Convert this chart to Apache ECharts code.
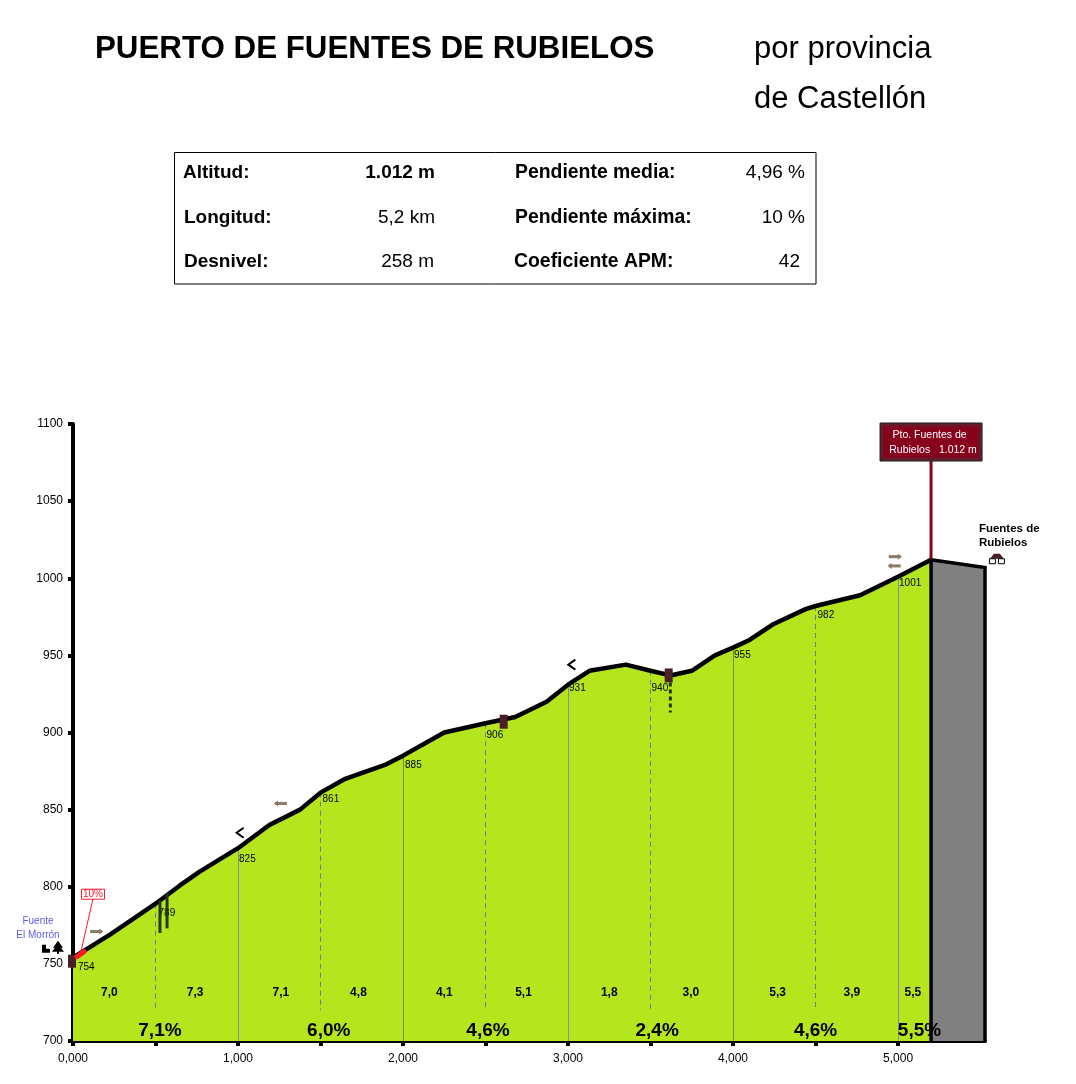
<!DOCTYPE html>
<html><head><meta charset="utf-8">
<style>html,body{margin:0;padding:0;background:#fff}#c{width:1076px;height:1084px}</style>
<script src="https://cdn.jsdelivr.net/npm/echarts@6/dist/echarts.min.js"></script>
</head><body><div id="c"></div>
<script>
var FONT='"Liberation Sans",Arial,sans-serif';
// ---- data ----
var profileKm=[0,0.224,0.376,0.5,0.65,0.77,1,1.19,1.376,1.5,1.65,1.89,2,2.25,2.5,2.68,2.87,3,3.13,3.35,3.5,3.62,3.75,3.89,4,4.1,4.24,4.44,4.5,4.77,5,5.2];
var profileAlt=[754,769,780,789,801,810,825,840,850,861,870,879,885,900,906,910,920,931,940,944,940,937,940,950,955,960,970,980,982,989,1001,1012];
var descentKm=[5.2,5.527];
var descentAlt=[1012,1007];
var markKm=[0,0.5,1,1.5,2,2.5,3,3.5,4,4.5,5];
var markAlt=[754,789,825,861,885,906,931,940,955,982,1001];
var stepGrades=['7,0','7,3','7,1','4,8','4,1','5,1','1,8','3,0','5,3','3,9','5,5'];
var stepKm=[0.22,0.74,1.26,1.73,2.25,2.73,3.25,3.745,4.27,4.72,5.09];
var bigGrades=['7,1%','6,0%','4,6%','2,4%','4,6%','5,5%'];
var bigKm=[0.527,1.55,2.515,3.54,4.5,5.13];
var xTicks=[0,1,2,3,4,5];
var xMinorTicks=[0,0.5,1,1.5,2,2.5,3,3.5,4,4.5,5];
var xTickLabels=['0,000','1,000','2,000','3,000','4,000','5,000'];
var yTickLabels=[700,750,800,850,900,950,1000,1050,1100];
var titleMain='PUERTO DE FUENTES DE RUBIELOS';
var titleSide=['por provincia','de Castellón'];
var infoLeft=[['Altitud:','1.012 m'],['Longitud:','5,2 km'],['Desnivel:','258 m']];
var infoRight=[['Pendiente media:','4,96 %'],['Pendiente máxima:','10 %'],['Coeficiente APM:','42']];
var summitLabel=['Pto. Fuentes de','Rubielos   1.012 m'];
var townLabel=['Fuentes de','Rubielos'];
var springLabel=['Fuente','El Morrón'];
var steepLabel='10%';

// ---- layout of the annotations ----
var markDx=[5,3,1,2,2,1,1,1,1,2,1];     // altitude label offset from its drop line
var markDy=[10,10,11,7,10,12,4,17,8,9,7];
function pairs(a,b){return a.map(function(v,i){return [v,b[i]];});}
var profile=pairs(profileKm,profileAlt);

function custom(z,data,fn){
  return {type:'custom',z:z,silent:true,clip:false,coordinateSystem:'cartesian2d',
    encode:{x:0,y:1},data:data,renderItem:fn};
}
function txt(x,y,s,size,opt){
  opt=opt||{};
  return {type:'text',style:{x:x,y:y,text:s,fill:opt.fill||'#000',
    font:(opt.weight||'normal')+' '+size+'px '+FONT,
    align:opt.align||'center',verticalAlign:'middle'}};
}
var zeroBase=700, dashEnd=720;
var series=[
  {type:'line',z:2,data:profile,symbol:'none',lineStyle:{width:0},silent:true,
   areaStyle:{color:'#b5e61d',opacity:1},origin:'start'},
  {type:'line',z:2,data:pairs(descentKm,descentAlt),symbol:'none',lineStyle:{width:0},silent:true,
   areaStyle:{color:'#808080',opacity:1},origin:'start'},
  // drop lines with their altitude labels
  custom(3,pairs(markKm,markAlt),function(p,api){
    var i=p.dataIndex,x=api.value(0),y=api.value(1);
    if(i===0){var a0=api.coord([x,y]);return {type:'group',children:[txt(a0[0]+markDx[i],a0[1]+markDy[i],''+y,10,{align:'left'})]};}
    var half=i%2===1;
    var top=api.coord([x,y]),bot=api.coord([x,half?dashEnd:zeroBase]);
    var px=Math.floor(top[0])+0.5;
    var c=[{type:'line',shape:{x1:px,y1:top[1],x2:px,y2:bot[1]},
      style:{stroke:half?'#77779a':(x%2===0?'#75884a':'#8a8ab0'),lineWidth:1,lineDash:half?[5,4]:null}}];
    c.push(txt(top[0]+markDx[i],top[1]+markDy[i],''+y,10,{align:'left'}));
    return {type:'group',children:c};
  }),
  // grade per 500 m
  custom(6,stepKm.map(function(v){return [v,731];}),function(p,api){
    var a=api.coord([api.value(0),api.value(1)]);
    return txt(a[0],a[1],stepGrades[p.dataIndex],12,{weight:'bold'});
  }),
  // grade per km
  custom(6,bigKm.map(function(v){return [v,706.5];}),function(p,api){
    var a=api.coord([api.value(0),api.value(1)]);
    return txt(a[0],a[1],bigGrades[p.dataIndex],19,{weight:'bold'});
  }),
  // descent stroke and profile stroke
  {type:'line',z:5,data:[[5.2,700],[5.2,1012],[5.527,1007],[5.527,700]],symbol:'none',silent:true,
   lineStyle:{width:3.5,color:'#000',join:'miter'}},
  {type:'line',z:5,data:profile,symbol:'none',silent:true,lineStyle:{width:4.5,color:'#000',join:'round'}},
  // summit stem and box
  custom(7,[[5.2,1012]],function(p,api){
    var a=api.coord([5.2,1012]),top=api.coord([5.2,1100]);
    var bx=a[0]-51,by=top[1]-1,bw=102,bh=38;
    var kids=[
      {type:'line',shape:{x1:a[0],y1:a[1]-1,x2:a[0],y2:by+bh},style:{stroke:'#87001f',lineWidth:3}},
      {type:'rect',shape:{x:bx,y:by,width:bw,height:bh},style:{fill:'#87001c'}}
    ];
    var edge=['#5a2a36','#62202e','#6c1628','#760e24','#800620'];
    edge.forEach(function(col,k){
      kids.push({type:'rect',shape:{x:bx+k+0.5,y:by+k+0.5,width:bw-2*k-1,height:bh-2*k-1},style:{fill:null,stroke:col,lineWidth:1}});
    });
    kids.push({type:'rect',shape:{x:bx,y:by,width:bw,height:bh},style:{fill:null,stroke:'#1c1c1c',lineWidth:1}});
    kids.push(txt(a[0]-1.5,by+12,summitLabel[0],10.5,{fill:'#fff'}));
    kids.push(txt(a[0]+2,by+27,summitLabel[1],10.5,{fill:'#fff'}));
    return {type:'group',children:kids};
  }),
  // start: steep section, spring, tree, hut
  custom(8,[[0,754]],function(p,api){
    var a=api.coord([0,754]);
    var X=a[0],Y=a[1];
    return {type:'group',children:[
      {type:'rect',shape:{x:X-5,y:Y-3,width:8,height:13},style:{fill:'#4a2026'}},
      {type:'line',shape:{x1:X+4,y1:Y-1,x2:X+11,y2:Y-6},style:{stroke:'#ff1a2a',lineWidth:5,lineCap:'round'}},
      {type:'line',shape:{x1:X+7,y1:Y-2,x2:X+20,y2:Y-59},style:{stroke:'#ff1a2a',lineWidth:1}},
      {type:'rect',shape:{x:X+8.5,y:Y-68.5,width:23,height:10},style:{fill:'#fff',stroke:'#ff1a2a',lineWidth:1}},
      txt(X+20,Y-63,steepLabel,10,{fill:'#ff1a2a'}),
      txt(X-35,Y-36,springLabel[0],10,{fill:'#5a5af0'}),
      txt(X-35,Y-22,springLabel[1],10,{fill:'#5a5af0'}),
      {type:'polygon',shape:{points:[[X-31,Y-13],[X-27,Y-13],[X-27,Y-9],[X-23,Y-9],[X-23,Y-5],[X-31,Y-5]]},style:{fill:'#000'}},
      {type:'polygon',shape:{points:[[X-15,Y-17],[X-10,Y-10],[X-12,Y-10],[X-9,Y-6],[X-14,Y-6],[X-14,Y-4],[X-16,Y-4],[X-16,Y-6],[X-21,Y-6],[X-18,Y-10],[X-20,Y-10]]},style:{fill:'#000'}}
    ]};
  }),
  // bridges, crossings, direction arrows
  custom(8,[[0.53,789]],function(p,api){
    function bar(km,a1,a2,dash){var t=api.coord([km,a1]),b=api.coord([km,a2]);
      return {type:'line',shape:{x1:t[0],y1:t[1],x2:b[0],y2:b[1]},style:{stroke:'#22380c',lineWidth:3,lineDash:dash||null}};}
    function sq(km,alt){var c=api.coord([km,alt]);
      return {type:'rect',shape:{x:c[0]-4,y:c[1]-7,width:8,height:14},style:{fill:'#4a2026'}};}
    function arrow(km,alt,dir){var c=api.coord([km,alt]),x=c[0],y=c[1],d=dir;
      return {type:'group',children:[
        {type:'line',shape:{x1:x-6*d,y1:y,x2:x+6*d,y2:y},style:{stroke:'#8c7b6b',lineWidth:3}},
        {type:'polygon',shape:{points:[[x+7*d,y],[x+3*d,y-3],[x+3*d,y+3]]},style:{fill:'#8c7b6b'}}]};}
    function chev(km,alt){var c=api.coord([km,alt]),x=c[0],y=c[1];
      return {type:'polyline',shape:{points:[[x+4,y-5],[x-3,y],[x+4,y+5]]},style:{stroke:'#000',lineWidth:2,fill:null}};}
    var h=api.coord([5.49,1012]);
    var hx=h[0]+18,hy=h[1]-1;
    return {type:'group',children:[
      bar(0.527,791,770),bar(0.57,796,773),bar(3.62,937,913,[4,3]),
      sq(2.61,907),sq(3.61,937),
      arrow(0.14,771,1),arrow(1.26,854,-1),arrow(4.98,1014,1),arrow(4.98,1008,-1),
      chev(1.01,835),chev(3.02,944),
      {type:'polygon',shape:{points:[[hx-7,hy],[hx-3,hy-5],[hx+3,hy-5],[hx+7,hy]]},style:{fill:'#4a2026'}},
      {type:'rect',shape:{x:hx-7.5,y:hy,width:6,height:5},style:{fill:'#fff',stroke:'#000',lineWidth:1}},
      {type:'rect',shape:{x:hx+1.5,y:hy,width:6,height:5},style:{fill:'#fff',stroke:'#000',lineWidth:1}},
      {type:'text',style:{x:h[0],y:h[1]-31,text:townLabel[0],fill:'#000',font:'bold 11.5px '+FONT,align:'left',verticalAlign:'middle'}},
      {type:'text',style:{x:h[0],y:h[1]-17,text:townLabel[1],fill:'#000',font:'bold 11.5px '+FONT,align:'left',verticalAlign:'middle'}}
    ]};
  })
];

var graphic=[
  {type:'text',left:95,top:34,style:{text:titleMain,font:'bold 31.3px '+FONT,fill:'#000'}},
  {type:'text',left:754,top:34,style:{text:titleSide[0],font:'31px '+FONT,fill:'#000'}},
  {type:'text',left:754,top:84,style:{text:titleSide[1],font:'31px '+FONT,fill:'#000'}},
  {type:'rect',shape:{x:174.5,y:152.5,width:641.5,height:131.5},style:{fill:'#fff',stroke:'#000',lineWidth:1}}
];
var rowY=[173,218,262];
var labelXL=[183,184,184], labelXR=[515,515,514], valEndL=[435,435,434], valEndR=[805,805,800];
function infoText(x,y,s,bold,right,size){
  return {type:'text',x:x,y:y,style:{text:s,font:(bold?'bold ':'')+size+'px '+FONT,fill:'#000',
    align:right?'right':'left',verticalAlign:'middle'}};
}
infoLeft.forEach(function(r,i){
  graphic.push(infoText(labelXL[i],rowY[i],r[0],true,false,19));
  graphic.push(infoText(valEndL[i],rowY[i],r[1],i===0,true,19));
});
infoRight.forEach(function(r,i){
  graphic.push(infoText(labelXR[i],rowY[i],r[0],true,false,19.4));
  graphic.push(infoText(valEndR[i],rowY[i],r[1],false,true,19));
});

var chart=echarts.init(document.getElementById('c'),null,{renderer:'canvas'});
chart.setOption({
  animation:false,
  backgroundColor:'#fff',
  graphic:graphic,
  grid:{left:73,top:424,width:912,height:617,containLabel:false},
  xAxis:{type:'value',min:0,max:5.527,
    axisLine:{show:true,onZero:false,lineStyle:{color:'#000',width:4}},
    axisTick:{show:true,customValues:xMinorTicks,length:5,lineStyle:{color:'#000',width:4}},
    axisLabel:{customValues:xTicks,margin:12,color:'#000',fontSize:12,fontFamily:FONT,
      formatter:function(v){return xTickLabels[xTicks.indexOf(v)];}},
    splitLine:{show:false}},
  yAxis:{type:'value',min:700,max:1100,interval:50,
    axisLine:{show:true,onZero:false,lineStyle:{color:'#000',width:4}},
    axisTick:{show:true,length:5,lineStyle:{color:'#000',width:4}},
    axisLabel:{margin:10,color:'#000',fontSize:12,fontFamily:FONT,
      formatter:function(v){return yTickLabels.indexOf(v)>=0?String(v):'';}},
    splitLine:{show:false}},
  series:series
});
</script></body></html>
